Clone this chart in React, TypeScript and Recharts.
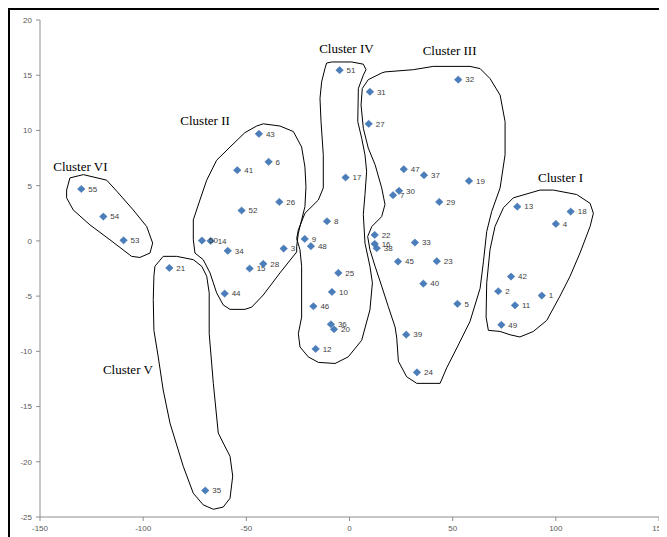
import React from 'react';
import { ScatterChart, Scatter, XAxis, YAxis } from 'recharts';

const pointIds = [
  1, 2, 3, 4, 5, 6, 7, 8, 9, 10, 11, 12, 13, 14, 15, 16, 17, 18, 19, 20,
  21, 22, 23, 24, 25, 26, 27, 28, 29, 30, 31, 32, 33, 34, 35, 36, 37, 38, 39, 40,
  41, 42, 43, 44, 45, 46, 47, 48, 49, 50, 51, 52, 53, 54, 55,
];
const pointX = [
  93.2, 72.1, -31.9, 100, 52.3, -39.2, 21.1, -10.9, -21.7, -8.5,
  80.2, -16.4, 81.3, -67.3, -48.4, 12.2, -1.9, 107.2, 57.9, -7.5,
  -87.3, 12.2, 42.3, 32.7, -5.4, -34.0, 9.3, -41.8, 43.5, 24.0,
  9.9, 52.7, 31.7, -59.0, -69.9, -9.0, 36.1, 13.2, 27.5, 35.8,
  -54.4, 78.3, -43.9, -60.5, 23.5, -17.5, 26.3, -18.7, 73.6, -71.5,
  -4.8, -52.3, -109.5, -119.3, -130.0,
];
const pointY = [
  -4.95, -4.56, -0.7, 1.54, -5.7, 7.16, 4.14, 1.78, 0.18, -4.62,
  -5.83, -9.78, 3.1, 0, -2.5, -0.27, 5.74, 2.65, 5.43, -8.0,
  -2.45, 0.54, -1.84, -11.9, -2.9, 3.53, 10.6, -2.08, 3.53, 4.53,
  13.5, 14.6, -0.15, -0.9, -22.6, -7.55, 5.95, -0.66, -8.49, -3.87,
  6.4, -3.23, 9.69, -4.77, -1.87, -5.92, 6.49, -0.48, -7.6, 0.03,
  15.46, 2.75, 0.05, 2.2, 4.7,
];

const xTicks = [-150, -100, -50, 0, 50, 100, 150];
const yTicks = [-25, -20, -15, -10, -5, 0, 5, 10, 15, 20];

const clusterNames = ['Cluster I', 'Cluster II', 'Cluster III', 'Cluster IV', 'Cluster V', 'Cluster VI'];
const clusterLabelX = [102.3, -70, 48.5, -1.5, -107.4, -130.4];
const clusterLabelY = [5.7, 10.9, 17.2, 17.4, -11.6, 6.7];

const outlineI: number[][] = [
  [79.4, 3.9], [92.3, 4.6], [98.8, 4.6], [110.1, 4.2], [116.6, 3.4], [118.2, 2.5], [116.6, 1.3],
  [111.7, -1.1], [106.9, -3.2], [102.0, -5.0], [95.6, -7.2], [89.1, -8.2], [82.6, -8.7], [77.8, -8.5],
  [73.0, -8.2], [67.3, -8.1], [66.2, -6.9], [66.5, -3.8], [68.1, -0.8], [70.5, 1.3], [74.6, 3.0],
];
const outlineII: number[][] = [
  [-41.8, 10.6], [-33.7, 10.4], [-27.2, 9.9], [-23.2, 8.5], [-21.6, 6.7], [-21.1, 4.9], [-21.6, 3.1],
  [-23.2, 1.9], [-24.8, 0.7], [-25.6, -0.5], [-25.6, -1.0], [-33.7, -2.9], [-41.8, -4.9], [-47.4, -6.0],
  [-50.7, -6.2], [-57.9, -6.2], [-61.2, -5.8], [-64.4, -4.7], [-67.6, -2.9], [-70.9, -1.7], [-74.9, -1.1],
  [-75.7, 0.1], [-75.7, 1.9], [-72.5, 3.7], [-69.2, 5.5], [-64.4, 7.3], [-57.9, 8.5], [-50.7, 9.8],
  [-45.0, 10.4],
];
const outlineIII: number[][] = [
  [9.1, 14.6], [15.6, 15.2], [17.2, 15.3], [30.9, 15.5], [40.6, 15.8], [58.4, 15.8], [63.3, 15.6],
  [68.1, 14.7], [73.0, 13.2], [75.4, 10.8], [75.4, 7.8], [73.0, 4.8], [68.9, 2.65], [66.5, 0.85],
  [64.9, -1.9], [63.3, -4.3], [58.4, -7.3], [52.0, -9.7], [47.1, -11.5], [43.9, -12.9], [32.6, -12.9],
  [27.7, -12.3], [23.7, -10.9], [22.9, -8.8], [22.1, -7.8], [18.8, -5.95], [15.6, -4.1], [12.4, -2.3],
  [9.9, -0.8], [8.8, 0.4], [10.8, 1.3], [15.6, 2.2], [17.2, 3.3], [15.6, 4.8], [12.4, 6.9],
  [9.1, 8.4], [6.7, 10.2], [5.6, 12.3], [6.2, 13.8],
];
const outlineIV: number[][] = [
  [-11.1, 16.1], [-8.6, 16.2], [1.1, 16.2], [6.7, 16.0], [8.0, 15.5], [6.7, 15.0], [4.3, 13.8],
  [4.0, 10.8], [5.9, 9.3], [7.5, 7.8], [8.3, 6.3], [7.5, 4.2], [6.7, 2.4], [7.5, -0.2],
  [9.9, -2.3], [11.1, -3.8], [9.9, -6.25], [5.9, -9.0], [-0.6, -10.5], [-7.0, -11.1], [-15.1, -11.0],
  [-20.0, -10.5], [-24.0, -9.6], [-24.8, -8.4], [-23.2, -6.9], [-23.2, -2.3], [-24.0, -0.8], [-25.6, 0.2],
  [-24.8, 1.0], [-21.6, 2.5], [-15.1, 3.7], [-12.7, 4.8], [-12.7, 7.8], [-13.8, 10.8], [-14.3, 12.9],
  [-13.5, 14.4], [-11.9, 15.6],
];
const outlineV: number[][] = [
  [-94.3, -2.3], [-90.3, -1.4], [-83.8, -1.4], [-75.7, -1.7], [-71.6, -2.3], [-69.2, -3.2], [-68.0, -4.7],
  [-68.0, -8.4], [-66.0, -12.9], [-63.6, -17.4], [-61.2, -18.3], [-57.9, -19.5], [-56.6, -21.3], [-57.9, -23.3],
  [-61.2, -24.1], [-66.0, -24.3], [-70.9, -23.9], [-75.7, -22.85], [-80.6, -20.4], [-87.0, -16.5], [-90.3, -13.5],
  [-92.7, -10.5], [-94.8, -8.1], [-95.1, -5.3], [-94.8, -3.2],
];
const outlineVI: number[][] = [
  [-137.1, 4.6], [-135.5, 5.7], [-129.0, 6.0], [-117.7, 5.5], [-112.8, 4.5], [-104.8, 2.8], [-98.3, 1.3],
  [-95.4, -0.2], [-96.7, -1.1], [-101.6, -1.5], [-105.6, -1.4], [-116.1, 0.1], [-125.8, 1.45], [-133.9, 2.8],
  [-137.1, 3.9],
];

const outlines = [outlineI, outlineII, outlineIII, outlineIV, outlineV, outlineVI];

const points = pointIds.map((id, i) => ({ id, x: pointX[i], y: pointY[i] }));
const clusterLabels = clusterNames.map((name, i) => ({ name, x: clusterLabelX[i], y: clusterLabelY[i] }));
const outlineData = outlines.map((o) => o.map(([x, y]) => ({ x, y })));

const PointShape = (props: any) => {
  const { cx, cy, payload } = props;
  if (cx == null || cy == null) return <g />;
  return (
    <g>
      <path
        d={`M${cx},${cy - 3.6} L${cx + 3.8},${cy} L${cx},${cy + 3.6} L${cx - 3.8},${cy} Z`}
        fill="#4A7EBB"
        stroke="#3E6DA8"
        strokeWidth={0.5}
      />
      <text
        x={cx + 7}
        y={cy}
        dy="0.35em"
        fontSize={8}
        fontFamily="'Liberation Sans', Arial, sans-serif"
        fill="#404040"
      >
        {payload.id}
      </text>
    </g>
  );
};

const ClusterLabelShape = (props: any) => {
  const { cx, cy, payload } = props;
  if (cx == null || cy == null) return <g />;
  return (
    <text
      x={cx}
      y={cy}
      dy="0.35em"
      textAnchor="middle"
      fontSize={13}
      fontFamily="'Liberation Serif', 'Times New Roman', serif"
      fill="#000"
    >
      {payload.name}
    </text>
  );
};

const NoShape = () => <g />;

export default function App() {
  return (
    <div
      style={{
        width: 657,
        height: 527,
        borderLeft: '2px solid #000',
        borderTop: '2px solid #000',
        background: '#fff',
      }}
    >
      <ScatterChart width={657} height={527} margin={{ top: 10, right: 8, bottom: 0, left: 0 }}>
        <XAxis
          type="number"
          dataKey="x"
          domain={[-150, 150]}
          ticks={xTicks}
          interval={0}
          height={20}
          tickSize={4}
          tickMargin={4}
          axisLine={{ stroke: '#8E8E8E' }}
          tickLine={{ stroke: '#8E8E8E' }}
          tick={{ fontSize: 8, fill: '#595959', fontFamily: "'Liberation Sans', Arial, sans-serif" }}
        />
        <YAxis
          type="number"
          dataKey="y"
          domain={[-25, 20]}
          ticks={yTicks}
          interval={0}
          width={30}
          tickSize={4}
          tickMargin={4}
          axisLine={{ stroke: '#8E8E8E' }}
          tickLine={{ stroke: '#8E8E8E' }}
          tick={{ fontSize: 8, fill: '#595959', fontFamily: "'Liberation Sans', Arial, sans-serif" }}
        />
        {outlineData.map((d, i) => (
          <Scatter
            key={`outline-${i}`}
            data={d}
            line={{ stroke: '#000', strokeWidth: 1, fill: 'none' }}
            lineJointType="linearClosed"
            shape={NoShape}
            fill="#000"
            isAnimationActive={false}
          />
        ))}
        <Scatter data={clusterLabels} shape={ClusterLabelShape} isAnimationActive={false} />
        <Scatter data={points} shape={PointShape} fill="#4A7EBB" isAnimationActive={false} />
      </ScatterChart>
    </div>
  );
}
